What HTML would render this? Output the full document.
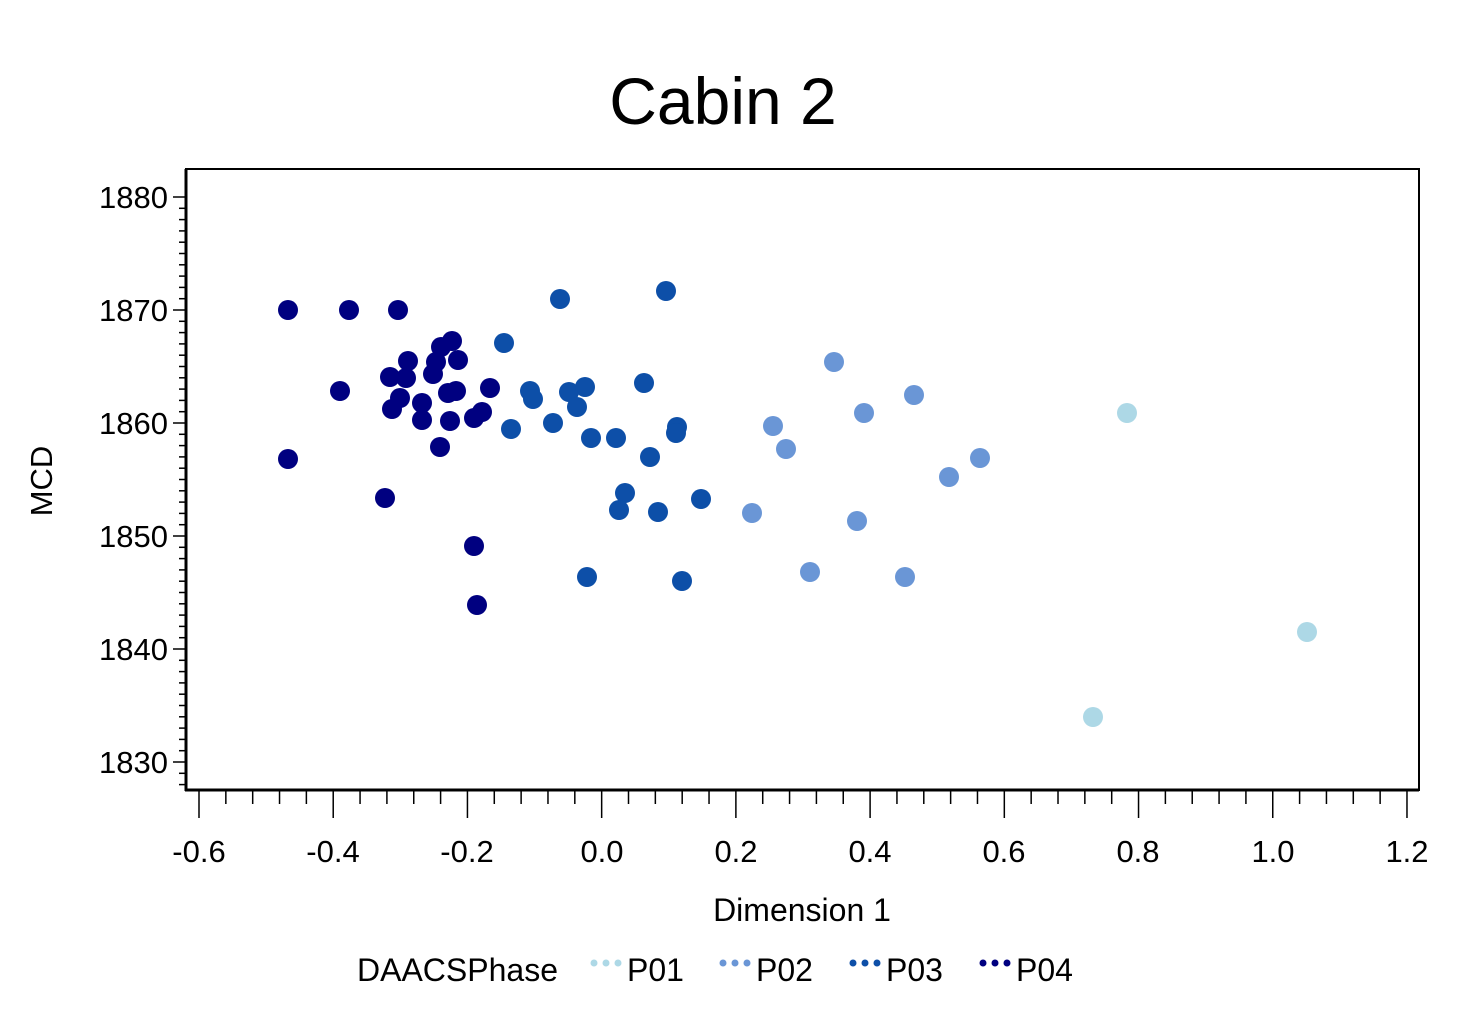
<!DOCTYPE html>
<html><head><style>body{margin:0;background:#fff}svg{display:block}text{font-family:"Liberation Sans",sans-serif;fill:#000}</style></head><body>
<svg width="1472" height="1014" xmlns="http://www.w3.org/2000/svg">
<text x="723" y="124" font-size="66" text-anchor="middle">Cabin 2</text>
<rect x="186" y="169" width="1233" height="621" fill="none" stroke="#000" stroke-width="2"/>
<line x1="186" y1="169" x2="186" y2="791" stroke="#000" stroke-width="3"/>
<line x1="185" y1="790" x2="1419" y2="790" stroke="#000" stroke-width="3"/>
<g id="yt" stroke="#000" stroke-width="1.5"></g>
<g id="xt" stroke="#000" stroke-width="1.5"></g>
<g font-size="31" text-anchor="end">
<text x="168" y="208">1880</text><text x="168" y="321">1870</text><text x="168" y="434">1860</text><text x="168" y="547">1850</text><text x="168" y="660">1840</text><text x="168" y="773">1830</text>
</g>
<g font-size="31" text-anchor="middle">
<text x="199" y="862">-0.6</text><text x="333" y="862">-0.4</text><text x="467" y="862">-0.2</text><text x="602" y="862">0.0</text><text x="736" y="862">0.2</text><text x="870" y="862">0.4</text><text x="1004" y="862">0.6</text><text x="1138" y="862">0.8</text><text x="1273" y="862">1.0</text><text x="1407" y="862">1.2</text>
</g>
<text x="802" y="921" font-size="32" text-anchor="middle">Dimension 1</text>
<text transform="translate(52,481) rotate(-90)" font-size="31" text-anchor="middle">MCD</text>
<g id="pts"></g>
<text x="357" y="981" font-size="32">DAACSPhase</text>
<g font-size="32">
<circle cx="594" cy="963" r="3.5" fill="#add8e6"/><circle cx="606" cy="963" r="3.5" fill="#add8e6"/><circle cx="618" cy="963" r="3.5" fill="#add8e6"/><text x="627" y="981">P01</text>
<circle cx="723" cy="963" r="3.5" fill="#6a96d6"/><circle cx="735" cy="963" r="3.5" fill="#6a96d6"/><circle cx="747" cy="963" r="3.5" fill="#6a96d6"/><text x="756" y="981">P02</text>
<circle cx="853" cy="963" r="3.5" fill="#0d4fa8"/><circle cx="865" cy="963" r="3.5" fill="#0d4fa8"/><circle cx="877" cy="963" r="3.5" fill="#0d4fa8"/><text x="886" y="981">P03</text>
<circle cx="983" cy="963" r="3.5" fill="#000080"/><circle cx="995" cy="963" r="3.5" fill="#000080"/><circle cx="1007" cy="963" r="3.5" fill="#000080"/><text x="1016" y="981">P04</text>
</g>
</svg>
<script>
var ns="http://www.w3.org/2000/svg";
var yt=document.getElementById("yt");
for(var i=0;i<=60;i++){var y=197+i*11.3;if(y<172||y>788)continue;var l=document.createElementNS(ns,"line");var L=(i%10==0)?12:6;l.setAttribute("x1",185-L);l.setAttribute("x2",185);l.setAttribute("y1",y);l.setAttribute("y2",y);yt.appendChild(l);}
var xt=document.getElementById("xt");
for(var i=0;i<=45;i++){var x=199+i*26.844;var l=document.createElementNS(ns,"line");var L=(i%5==0)?27:13;l.setAttribute("x1",x);l.setAttribute("x2",x);l.setAttribute("y1",791);l.setAttribute("y2",791+L);xt.appendChild(l);}
var P={"#000080":[[288,310],[349,310],[398,310],[340,391],[288,459],[385,498],[390,377],[406,378],[408,361],[392,409],[400,398],[422,403],[422,420],[433,374],[436,362],[441,347],[452,341],[458,360],[448,393],[456,391],[450,421],[440,447],[474,418],[482,412],[490,388],[474,546],[477,605]],
"#0d4fa8":[[560,299],[666,291],[504,343],[530,391],[533,399],[569,392],[585,387],[577,407],[553,423],[511,429],[591,438],[616,438],[644,383],[677,427],[676,433],[650,457],[625,493],[619,510],[658,512],[701,499],[587,577],[682,581]],
"#6a96d6":[[834,362],[914,395],[864,413],[773,426],[786,449],[980,458],[949,477],[752,513],[857,521],[810,572],[905,577]],
"#add8e6":[[1127,413],[1307,632],[1093,717]]};
var g=document.getElementById("pts");
for(var c in P)P[c].forEach(function(p){var e=document.createElementNS(ns,"circle");e.setAttribute("cx",p[0]);e.setAttribute("cy",p[1]);e.setAttribute("r",10);e.setAttribute("fill",c);g.appendChild(e);});
</script>
</body></html>
